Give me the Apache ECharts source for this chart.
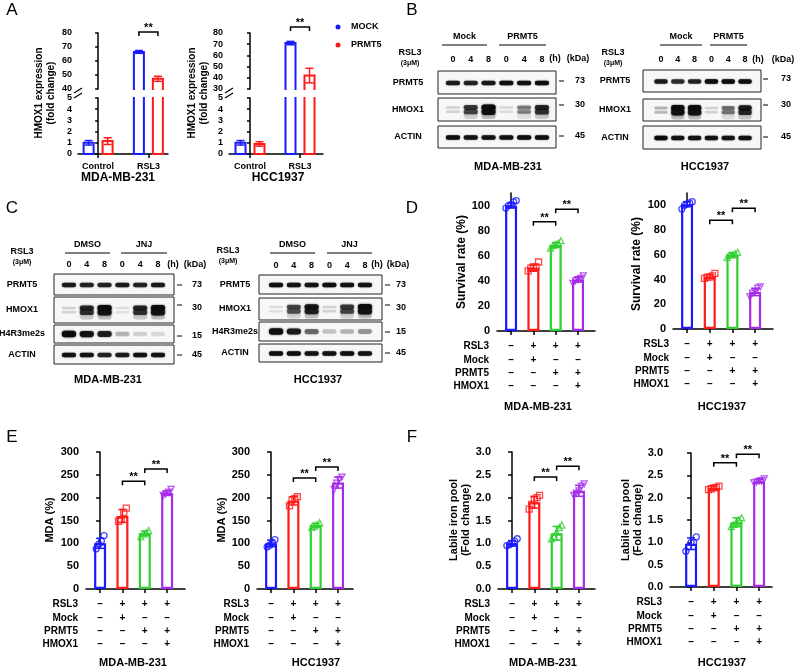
<!DOCTYPE html>
<html>
<head>
<meta charset="utf-8">
<script src="https://cdn.jsdelivr.net/npm/echarts@6/dist/echarts.min.js"></script>
<style>
  html, body { margin: 0; padding: 0; background: #fff; }
  #main { width: 796px; height: 670px; }
</style>
</head>
<body>
<div id="main"></div>
<script>
// ---------- values ----------
const cellLines = ['MDA-MB-231', 'HCC1937'];

// A  HMOX1 expression (fold change), broken y axis
const aGroups = ['Control', 'RSL3'];
const aMdaMock = [1.0, 66.5], aMdaMockSd = [0.2, 1.0];
const aMdaPrmt5 = [1.15, 47.3], aMdaPrmt5Sd = [0.3, 1.8];
const aHccMock = [1.0, 71.0], aHccMockSd = [0.2, 1.5];
const aHccPrmt5 = [0.9, 42.0], aHccPrmt5Sd = [0.2, 6.5];
const aMdaUpper = [40, 80], aHccUpper = [30, 80], aLower = [0, 5];

// B / C  western blots (band strength 0..1 per lane)
const laneLabels = ['0', '4', '8', '0', '4', '8'];
const bMdaPRMT5 = [0.85, 0.8, 0.85, 0.95, 0.9, 0.95];
const bMdaHMOX1 = [0.15, 0.7, 1.0, 0.12, 0.45, 0.8];
const bMdaACTIN = [0.95, 0.9, 0.9, 0.9, 0.95, 0.95];
const bHccPRMT5 = [0.85, 0.75, 0.8, 1.0, 1.0, 0.95];
const bHccHMOX1 = [0.25, 1.0, 1.0, 0.15, 0.5, 0.85];
const bHccACTIN = [1.0, 0.9, 0.9, 0.9, 0.9, 0.9];
const cMdaPRMT5 = [0.85, 0.8, 0.8, 0.85, 0.8, 0.85];
const cMdaHMOX1 = [0.15, 0.8, 1.0, 0.1, 0.8, 1.0];
const cMdaH4R3 = [1.0, 0.9, 0.85, 0.25, 0.15, 0.12];
const cMdaACTIN = [0.9, 0.9, 0.8, 0.85, 0.9, 0.9];
const cHccPRMT5 = [0.95, 0.9, 0.9, 0.95, 0.9, 0.9];
const cHccHMOX1 = [0.1, 0.65, 0.9, 0.15, 0.7, 1.0];
const cHccH4R3 = [0.95, 0.85, 0.5, 0.2, 0.25, 0.35];
const cHccACTIN = [0.95, 0.95, 0.9, 0.9, 0.95, 0.9];

// D / E / F  condition table under the bars
const condRows = ['RSL3', 'Mock', 'PRMT5', 'HMOX1'];
const condSigns = [
  ['–', '+', '+', '+'],
  ['–', '+', '–', '–'],
  ['–', '–', '+', '+'],
  ['–', '–', '–', '+']
];

// D  Survival rate (%)
const survivalTicks = [0, 20, 40, 60, 80, 100];
const dMdaMean = [100, 50.5, 68.5, 41], dMdaSd = [2, 2.8, 2, 2];
const dMdaPts = [[98, 100, 101, 103, 104], [48, 50, 50, 51, 55], [66, 68, 69, 70, 72], [38, 40, 41, 42, 44]];
const dMdaSig = [[1, 2, 87], [2, 3, 97]];
const dHccMean = [101, 42.5, 60, 30], dHccSd = [2, 1.5, 1.5, 3];
const dHccPts = [[97, 100, 101, 102, 103], [41, 42, 42, 43, 45], [58, 60, 60, 61, 62], [26, 29, 30, 33, 34]];
const dHccSig = [[1, 2, 88], [2, 3, 97.6]];

// E  MDA (%)
const mdaTicks = [0, 50, 100, 150, 200, 250, 300];
const eMdaMean = [100, 160, 122, 210], eMdaSd = [11, 14, 5, 5];
const eMdaPts = [[88, 98, 105, 117], [148, 152, 168, 177], [115, 120, 123, 128], [205, 208, 212, 218]];
const eMdaSig = [[1, 2, 236], [2, 3, 263]];
const eHccMean = [100, 193, 140, 233], eHccSd = [7, 9, 4, 12];
const eHccPts = [[92, 96, 102, 108], [182, 195, 198, 202], [135, 138, 141, 145], [218, 232, 240, 245]];
const eHccSig = [[1, 2, 243], [2, 3, 267]];

// F  Labile iron pool (fold change)
const ironTicks = [0, 0.5, 1, 1.5, 2, 2.5, 3];
const fMdaMean = [1.0, 1.9, 1.22, 2.15], fMdaSd = [0.06, 0.13, 0.15, 0.12];
const fMdaPts = [[0.95, 0.97, 1.0, 1.05, 1.1], [1.75, 1.85, 1.95, 2.0, 2.05], [1.1, 1.15, 1.25, 1.35, 1.4], [2.05, 2.1, 2.15, 2.25, 2.3]];
const fMdaSig = [[1, 2, 2.45], [2, 3, 2.69]];
const fHccMean = [0.97, 2.22, 1.45, 2.37], fHccSd = [0.13, 0.04, 0.1, 0.04];
const fHccPts = [[0.8, 0.9, 1.0, 1.0, 1.12], [2.18, 2.2, 2.22, 2.23, 2.26], [1.35, 1.4, 1.45, 1.5, 1.55], [2.33, 2.35, 2.37, 2.38, 2.42]];
const fHccSig = [[1, 2, 2.78], [2, 3, 2.97]];

// ---------- styling ----------
const FONT = '"Liberation Sans", Arial, Helvetica, sans-serif';
const BLUE = '#1a1aff', RED = '#ff1a1a', GREEN = '#2fcf2f', PURPLE = '#a52be8';
const groupColors = [BLUE, RED, GREEN, PURPLE];
const groupSymbols = ['circle', 'rect', 'triangle', 'triangle'];
const groupRotate = [0, 0, 0, 180];
const blackLine = { color: '#000', width: 1.5 };

const option = {
  animation: false,
  backgroundColor: '#fff',
  textStyle: { fontFamily: FONT },
  grid: [], xAxis: [], yAxis: [], series: [],
  graphic: { elements: [] }
};
const G = option.graphic.elements;

function addGrid(grid, xAxis, yAxis) {
  const i = option.grid.length;
  option.grid.push(Object.assign({ containLabel: false }, grid));
  option.xAxis.push(Object.assign({ gridIndex: i }, xAxis));
  option.yAxis.push(Object.assign({ gridIndex: i }, yAxis));
  return i;
}
function text(x, y, s, size, style, rotation) {
  G.push({
    type: 'text', x, y, rotation: rotation || 0, silent: true,
    style: Object.assign({
      text: s, fontFamily: FONT, fontSize: size, fontWeight: 'bold', fill: '#000',
      align: 'center', verticalAlign: 'middle'
    }, style || {})
  });
}
function line(x1, y1, x2, y2, w) {
  G.push({ type: 'line', silent: true, shape: { x1, y1, x2, y2 }, style: { stroke: '#000', lineWidth: w || 1 } });
}
const label = (size, extra) => Object.assign({ fontSize: size, fontWeight: 'bold', color: '#000', fontFamily: FONT }, extra);

// ---------- custom renderers ----------
function errRender(colorOf, off) {
  return function (params, api) {
    const cs = params.coordSys;
    const g = api.value(0), m = api.value(1), s = api.value(2);
    const c = api.coord([g, m]);
    if (c[1] < cs.y - 0.5 || c[1] > cs.y + cs.height + 0.5) return null;
    const x = c[0] + off;
    const yHi = api.coord([g, m + s])[1], yLo = api.coord([g, m - s])[1];
    const st = { stroke: colorOf(g), lineWidth: 1.5, fill: null };
    return {
      type: 'group', children: [
        { type: 'line', shape: { x1: x, y1: yLo, x2: x, y2: yHi }, style: st },
        { type: 'line', shape: { x1: x - 4, y1: yHi, x2: x + 4, y2: yHi }, style: st },
        { type: 'line', shape: { x1: x - 4, y1: yLo, x2: x + 4, y2: yLo }, style: st }
      ]
    };
  };
}
function bracketRender(params, api) {
  const y = api.coord([0, api.value(2)])[1];
  const xa = api.coord([api.value(0), 0])[0] + (api.value(3) || 0);
  const xb = api.coord([api.value(1), 0])[0] + (api.value(4) || 0);
  return {
    type: 'group', children: [
      { type: 'polyline', shape: { points: [[xa, y + 4], [xa, y], [xb, y], [xb, y + 4]] }, style: { stroke: '#000', lineWidth: 1.5, fill: null } },
      { type: 'text', x: (xa + xb) / 2, y: y - 4, style: { text: '**', fontFamily: FONT, fontSize: 11, fontWeight: 'bold', fill: '#000', align: 'center', verticalAlign: 'middle' } }
    ]
  };
}
// hollow bar of the broken-axis panel, open where the axis is cut
function brokenBarRender(color, off, upper) {
  return function (params, api) {
    const cs = params.coordSys;
    const c = api.coord([api.value(0), api.value(1)]);
    const base = cs.y + cs.height;
    let top = c[1];
    if (top >= base) return null;
    const open = top < cs.y;
    if (open) top = cs.y;
    const x0 = c[0] + off - 5, x1 = c[0] + off + 5;
    const st = { stroke: color, lineWidth: 2, fill: null };
    if (upper) {
      return { type: 'polyline', shape: { points: [[x0, base + 1], [x0, top], [x1, top], [x1, base + 1]] }, style: st };
    }
    if (open) {
      return { type: 'polyline', shape: { points: [[x0, top - 1], [x0, base], [x1, base], [x1, top - 1]] }, style: st };
    }
    return { type: 'polygon', shape: { points: [[x0, base], [x0, top], [x1, top], [x1, base]] }, style: st };
  };
}
function bandRender(kind) {
  return function (params, api) {
    const s = api.value(2);
    const c = api.coord([api.value(0), api.value(1)]);
    const w = api.size([0.8, 0])[0];
    const col = a => 'rgba(12,12,12,' + Math.min(1, a).toFixed(2) + ')';
    const rect = (cy, h, a, blur) => ({
      type: 'rect',
      shape: { x: c[0] - w / 2, y: cy - h / 2, width: w, height: h, r: h / 2 },
      style: { fill: col(a), shadowBlur: blur, shadowColor: col(a * 0.9) }
    });
    const kids = [];
    if (kind === 'hmox') {
      if (s > 0.3) kids.push(rect(c[1] + 6, 7, s * 0.22, 4));
      kids.push(rect(c[1] - 2, 2 + 4 * s, s, 2));
      kids.push(rect(c[1] + 2.2, 2 + 4.5 * s, s * 0.9, 2));
    } else if (kind === 'h4') {
      kids.push(rect(c[1], 4 + 2.5 * s, s, 2));
    } else {
      kids.push(rect(c[1] + 0.5, 4.5, s, 1.5));
    }
    return { type: 'group', children: kids };
  };
}

// ---------- panel builders ----------
function brokenPanel(p) {
  const xa = show => ({
    type: 'value', min: p.xMin, max: p.xMax, show, splitLine: { show: false },
    axisLine: { show: true, lineStyle: blackLine },
    axisTick: { customValues: [0, 1], length: 4, lineStyle: blackLine },
    axisLabel: label(9, { customValues: [0, 1], formatter: v => aGroups[Math.round(v)], margin: 8 })
  });
  const ya = (range, iv) => ({
    type: 'value', min: range[0], max: range[1], interval: iv, splitLine: { show: false },
    axisLine: { show: true, lineStyle: blackLine },
    axisTick: { length: 3, lineStyle: blackLine },
    axisLabel: label(9, { margin: 6 })
  });
  const w = p.x1 - p.x0;
  const up = addGrid({ left: p.x0, top: 33, width: w, height: 56 }, xa(false), ya(p.upper, 10));
  const lo = addGrid({ left: p.x0, top: 98, width: w, height: 56 }, xa(true), ya(aLower, 1));
  [[up, true], [lo, false]].forEach(([gi, upper]) => {
    [[p.mock, p.mockSd, BLUE, -9.5, 'MOCK'], [p.prmt, p.prmtSd, RED, 9.5, 'PRMT5']].forEach(([m, sd, col, off, name]) => {
      option.series.push({ type: 'custom', name, xAxisIndex: gi, yAxisIndex: gi, z: 2,
        renderItem: brokenBarRender(col, off, upper), data: m.map((v, g) => [g, v]) });
      option.series.push({ type: 'custom', xAxisIndex: gi, yAxisIndex: gi, z: 3,
        renderItem: errRender(() => col, off), data: m.map((v, g) => [g, v, sd[g]]) });
    });
  });
  option.series.push({ type: 'custom', xAxisIndex: up, yAxisIndex: up, z: 4,
    renderItem: bracketRender, data: [[1, 1, p.sigY, -9.5, 9.5]] });
  // axis break marks
  line(p.x0 - 4, 93, p.x0 + 4, 88, 1.2);
  line(p.x0 - 4, 98, p.x0 + 4, 93, 1.2);
  text(p.nameX, 93, 'HMOX1 expression\n(fold change)', 10, { lineHeight: 12 }, Math.PI / 2);
  text(p.titleX, 178, p.title, 12);
}

function statPanel(p) {
  const gi = addGrid(
    { left: p.x0, top: p.yTop, width: p.x1 - p.x0, height: p.yZero - p.yTop },
    {
      type: 'value', min: p.xMin, max: p.xMax, splitLine: { show: false },
      axisLine: { show: true, lineStyle: blackLine },
      axisTick: { customValues: [0, 1, 2, 3], length: 4, lineStyle: blackLine },
      axisLabel: label(10, {
        customValues: [0, 1, 2, 3], margin: 9, lineHeight: 13.3,
        formatter: v => condSigns.map(r => r[Math.round(v)]).join('\n')
      })
    },
    {
      type: 'value', min: 0, max: p.yMax, splitLine: { show: false },
      axisLine: { show: true, lineStyle: blackLine },
      axisTick: { customValues: p.yTicks, length: 4, lineStyle: blackLine },
      axisLabel: label(11, { customValues: p.yTicks, margin: 7, formatter: p.fmt || (v => String(v)) })
    }
  );
  option.series.push({
    type: 'bar', xAxisIndex: gi, yAxisIndex: gi, barWidth: 12, z: 2,
    data: p.mean.map((m, g) => ({ value: [g, m], itemStyle: { color: '#fff', borderColor: groupColors[g], borderWidth: 2.2 } }))
  });
  const pts = [];
  p.pts.forEach((arr, g) => arr.forEach((v, k) => pts.push({
    value: [g, v],
    symbol: groupSymbols[g], symbolRotate: groupRotate[g],
    symbolOffset: [(k - (arr.length - 1) / 2) * 2.6, 0],
    itemStyle: { color: 'rgba(255,255,255,0)', borderColor: groupColors[g], borderWidth: 1.3 }
  })));
  option.series.push({ type: 'scatter', xAxisIndex: gi, yAxisIndex: gi, symbolSize: 6, z: 3, data: pts });
  option.series.push({
    type: 'custom', xAxisIndex: gi, yAxisIndex: gi, z: 4,
    renderItem: errRender(g => groupColors[g], 0), data: p.mean.map((m, g) => [g, m, p.sd[g]])
  });
  option.series.push({ type: 'custom', xAxisIndex: gi, yAxisIndex: gi, z: 4, renderItem: bracketRender, data: p.sig });
  condRows.forEach((r, k) => text(p.x0 - (p.rowGap || 8), p.yZero + 15.6 + 13.3 * k, r, 10, { align: 'right' }));
  text(p.nameX, p.nameY, p.name, p.nameSize || 11, { lineHeight: 12.5 }, Math.PI / 2);
  text(p.titleX, p.titleY, p.title, 11);
}

function blotPanel(p) {
  p.rows.forEach((r, k) => {
    const gi = addGrid(
      { left: p.x, top: r.top, width: p.w, height: r.h, show: true, borderColor: '#222', borderWidth: 1, backgroundColor: '#f7f7f7' },
      k === 0 ? {
        type: 'value', position: 'top', min: p.laneMin, max: p.laneMax, splitLine: { show: false },
        axisLine: { show: false }, axisTick: { show: false },
        axisLabel: label(9, { customValues: [0, 1, 2, 3, 4, 5], margin: p.laneMargin, formatter: v => laneLabels[Math.round(v)] })
      } : { type: 'value', show: false, min: p.laneMin, max: p.laneMax, splitLine: { show: false } },
      { type: 'value', show: false, min: 0, max: 1, splitLine: { show: false } }
    );
    option.series.push({
      type: 'custom', xAxisIndex: gi, yAxisIndex: gi, clip: true, z: 2,
      renderItem: bandRender(r.kind), data: r.data.map((s, l) => [l, 0.5, s])
    });
    text(p.labelX, r.top + r.h / 2, r.name, 9);
    line(p.tickX, r.kdaY, p.tickX + 5, r.kdaY, 1);
    text(p.kdaX, r.kdaNumY || r.kdaY, r.kda, 9);
  });
  p.groups.forEach(gr => {
    text((gr.x1 + gr.x2) / 2, p.groupY, gr.name, 9);
    line(gr.x1, p.groupY + 8, gr.x2, p.groupY + 8, 1);
  });
  text(p.rslX, p.rslY, 'RSL3', 9);
  text(p.rslX, p.rslY + 10, '(3μM)', 7);
  text(p.hX, p.laneY, '(h)', 9);
  text(p.kdaHeadX, p.laneY, '(kDa)', 9);
  text(p.titleX, p.titleY, p.title, 11);
}

// ---------- A ----------
brokenPanel({ x0: 78, x1: 168, xMin: -0.4, xMax: 1.39, upper: aMdaUpper,
  mock: aMdaMock, mockSd: aMdaMockSd, prmt: aMdaPrmt5, prmtSd: aMdaPrmt5Sd, sigY: 80.7,
  nameX: 45, title: cellLines[0], titleX: 118 });
brokenPanel({ x0: 229, x1: 323, xMin: -0.42, xMax: 1.46, upper: aHccUpper,
  mock: aHccMock, mockSd: aHccMockSd, prmt: aHccPrmt5, prmtSd: aHccPrmt5Sd, sigY: 85.4,
  nameX: 198, title: cellLines[1], titleX: 278 });
G.push({ type: 'circle', shape: { cx: 338, cy: 27, r: 2.5 }, style: { fill: BLUE } });
G.push({ type: 'circle', shape: { cx: 338, cy: 45, r: 2.5 }, style: { fill: RED } });
text(351, 27, 'MOCK', 9, { align: 'left' });
text(351, 45, 'PRMT5', 9, { align: 'left' });

// ---------- B ----------
blotPanel({
  x: 438, w: 118, laneMin: -0.84, laneMax: 5.79, laneMargin: 7, laneY: 59, labelX: 408,
  tickX: 559, kdaX: 580,
  rows: [
    { name: 'PRMT5', top: 71, h: 23, kind: 'plain', data: bMdaPRMT5, kda: '73', kdaY: 81 },
    { name: 'HMOX1', top: 98, h: 23, kind: 'hmox', data: bMdaHMOX1, kda: '30', kdaY: 105 },
    { name: 'ACTIN', top: 126, h: 22, kind: 'plain', data: bMdaACTIN, kda: '45', kdaY: 136 }
  ],
  groups: [{ name: 'Mock', x1: 442, x2: 487 }, { name: 'PRMT5', x1: 499, x2: 546 }], groupY: 37,
  rslX: 410, rslY: 53, hX: 555, kdaHeadX: 578, title: cellLines[0], titleX: 508, titleY: 167
});
blotPanel({
  x: 643, w: 118, laneMin: -1.07, laneMax: 5.95, laneMargin: 6, laneY: 60, labelX: 615,
  tickX: 763, kdaX: 786,
  rows: [
    { name: 'PRMT5', top: 70, h: 22, kind: 'plain', data: bHccPRMT5, kda: '73', kdaY: 79 },
    { name: 'HMOX1', top: 99, h: 22, kind: 'hmox', data: bHccHMOX1, kda: '30', kdaY: 105 },
    { name: 'ACTIN', top: 126, h: 23, kind: 'plain', data: bHccACTIN, kda: '45', kdaY: 137 }
  ],
  groups: [{ name: 'Mock', x1: 660, x2: 702 }, { name: 'PRMT5', x1: 710, x2: 747 }], groupY: 37,
  rslX: 613, rslY: 53, hX: 758, kdaHeadX: 783, title: cellLines[1], titleX: 705, titleY: 167
});

// ---------- C ----------
blotPanel({
  x: 54, w: 120, laneMin: -0.84, laneMax: 5.9, laneMargin: 4.5, laneY: 265, labelX: 22,
  tickX: 177, kdaX: 197,
  rows: [
    { name: 'PRMT5', top: 274, h: 21, kind: 'plain', data: cMdaPRMT5, kda: '73', kdaY: 285 },
    { name: 'HMOX1', top: 297, h: 26, kind: 'hmox', data: cMdaHMOX1, kda: '30', kdaY: 305, kdaNumY: 308 },
    { name: 'H4R3me2s', top: 325, h: 18, kind: 'h4', data: cMdaH4R3, kda: '15', kdaY: 336 },
    { name: 'ACTIN', top: 345, h: 19, kind: 'plain', data: cMdaACTIN, kda: '45', kdaY: 355 }
  ],
  groups: [{ name: 'DMSO', x1: 65, x2: 110 }, { name: 'JNJ', x1: 121, x2: 167 }], groupY: 245,
  rslX: 22, rslY: 252, hX: 173, kdaHeadX: 195, title: cellLines[0], titleX: 108, titleY: 380
});
blotPanel({
  x: 259, w: 123, laneMin: -0.96, laneMax: 5.96, laneMargin: 5, laneY: 265, labelX: 235,
  tickX: 385, kdaX: 401,
  rows: [
    { name: 'PRMT5', top: 275, h: 19, kind: 'plain', data: cHccPRMT5, kda: '73', kdaY: 285 },
    { name: 'HMOX1', top: 298, h: 22, kind: 'hmox', data: cHccHMOX1, kda: '30', kdaY: 305, kdaNumY: 308 },
    { name: 'H4R3me2s', top: 322, h: 19, kind: 'h4', data: cHccH4R3, kda: '15', kdaY: 332 },
    { name: 'ACTIN', top: 344, h: 18, kind: 'plain', data: cHccACTIN, kda: '45', kdaY: 353 }
  ],
  groups: [{ name: 'DMSO', x1: 270, x2: 315 }, { name: 'JNJ', x1: 327, x2: 372 }], groupY: 245,
  rslX: 228, rslY: 251, hX: 377, kdaHeadX: 398, title: cellLines[1], titleX: 318, titleY: 380
});

// ---------- D ----------
statPanel({ x0: 497, x1: 595, yTop: 193, yZero: 331, yMax: 110, yTicks: survivalTicks, xMin: -0.63, xMax: 3.76,
  mean: dMdaMean, sd: dMdaSd, pts: dMdaPts, sig: dMdaSig,
  name: 'Survival rate (%)', nameSize: 12, nameX: 462, nameY: 262, title: cellLines[0], titleX: 538, titleY: 407 });
statPanel({ x0: 673, x1: 773, yTop: 193, yZero: 329, yMax: 110, yTicks: survivalTicks, xMin: -0.62, xMax: 3.79,
  mean: dHccMean, sd: dHccSd, pts: dHccPts, sig: dHccSig, rowGap: 4,
  name: 'Survival rate (%)', nameSize: 12, nameX: 637, nameY: 264, title: cellLines[1], titleX: 722, titleY: 407 });

// ---------- E ----------
statPanel({ x0: 86, x1: 185, yTop: 452, yZero: 589, yMax: 300, yTicks: mdaTicks, xMin: -0.63, xMax: 3.8,
  mean: eMdaMean, sd: eMdaSd, pts: eMdaPts, sig: eMdaSig,
  name: 'MDA (%)', nameX: 50, nameY: 520, title: cellLines[0], titleX: 133, titleY: 663 });
statPanel({ x0: 257, x1: 353, yTop: 452, yZero: 589, yMax: 300, yTicks: mdaTicks, xMin: -0.63, xMax: 3.67,
  mean: eHccMean, sd: eHccSd, pts: eHccPts, sig: eHccSig,
  name: 'MDA (%)', nameX: 222, nameY: 520, title: cellLines[1], titleX: 316, titleY: 663 });

// ---------- F ----------
const oneDecimal = v => v.toFixed(1);
statPanel({ x0: 498, x1: 595, yTop: 452, yZero: 589, yMax: 3, yTicks: ironTicks, fmt: oneDecimal, xMin: -0.63, xMax: 3.72,
  mean: fMdaMean, sd: fMdaSd, pts: fMdaPts, sig: fMdaSig,
  name: 'Labile iron pool\n(Fold change)', nameX: 460, nameY: 520, title: cellLines[0], titleX: 543, titleY: 663 });
statPanel({ x0: 670, x1: 772, yTop: 453, yZero: 587, yMax: 3, yTicks: ironTicks, fmt: oneDecimal, xMin: -0.93, xMax: 3.57,
  mean: fHccMean, sd: fHccSd, pts: fHccPts, sig: fHccSig,
  name: 'Labile iron pool\n(Fold change)', nameX: 632, nameY: 520, title: cellLines[1], titleX: 722, titleY: 663 });

// ---------- panel letters ----------
[['A', 12, 10], ['B', 412, 10], ['C', 12, 208], ['D', 412, 208], ['E', 12, 437], ['F', 412, 437]]
  .forEach(([s, x, y]) => text(x, y, s, 17, { fontWeight: 'normal' }));

const chart = echarts.init(document.getElementById('main'), null, { renderer: 'canvas' });
chart.setOption(option);
</script>
</body>
</html>
